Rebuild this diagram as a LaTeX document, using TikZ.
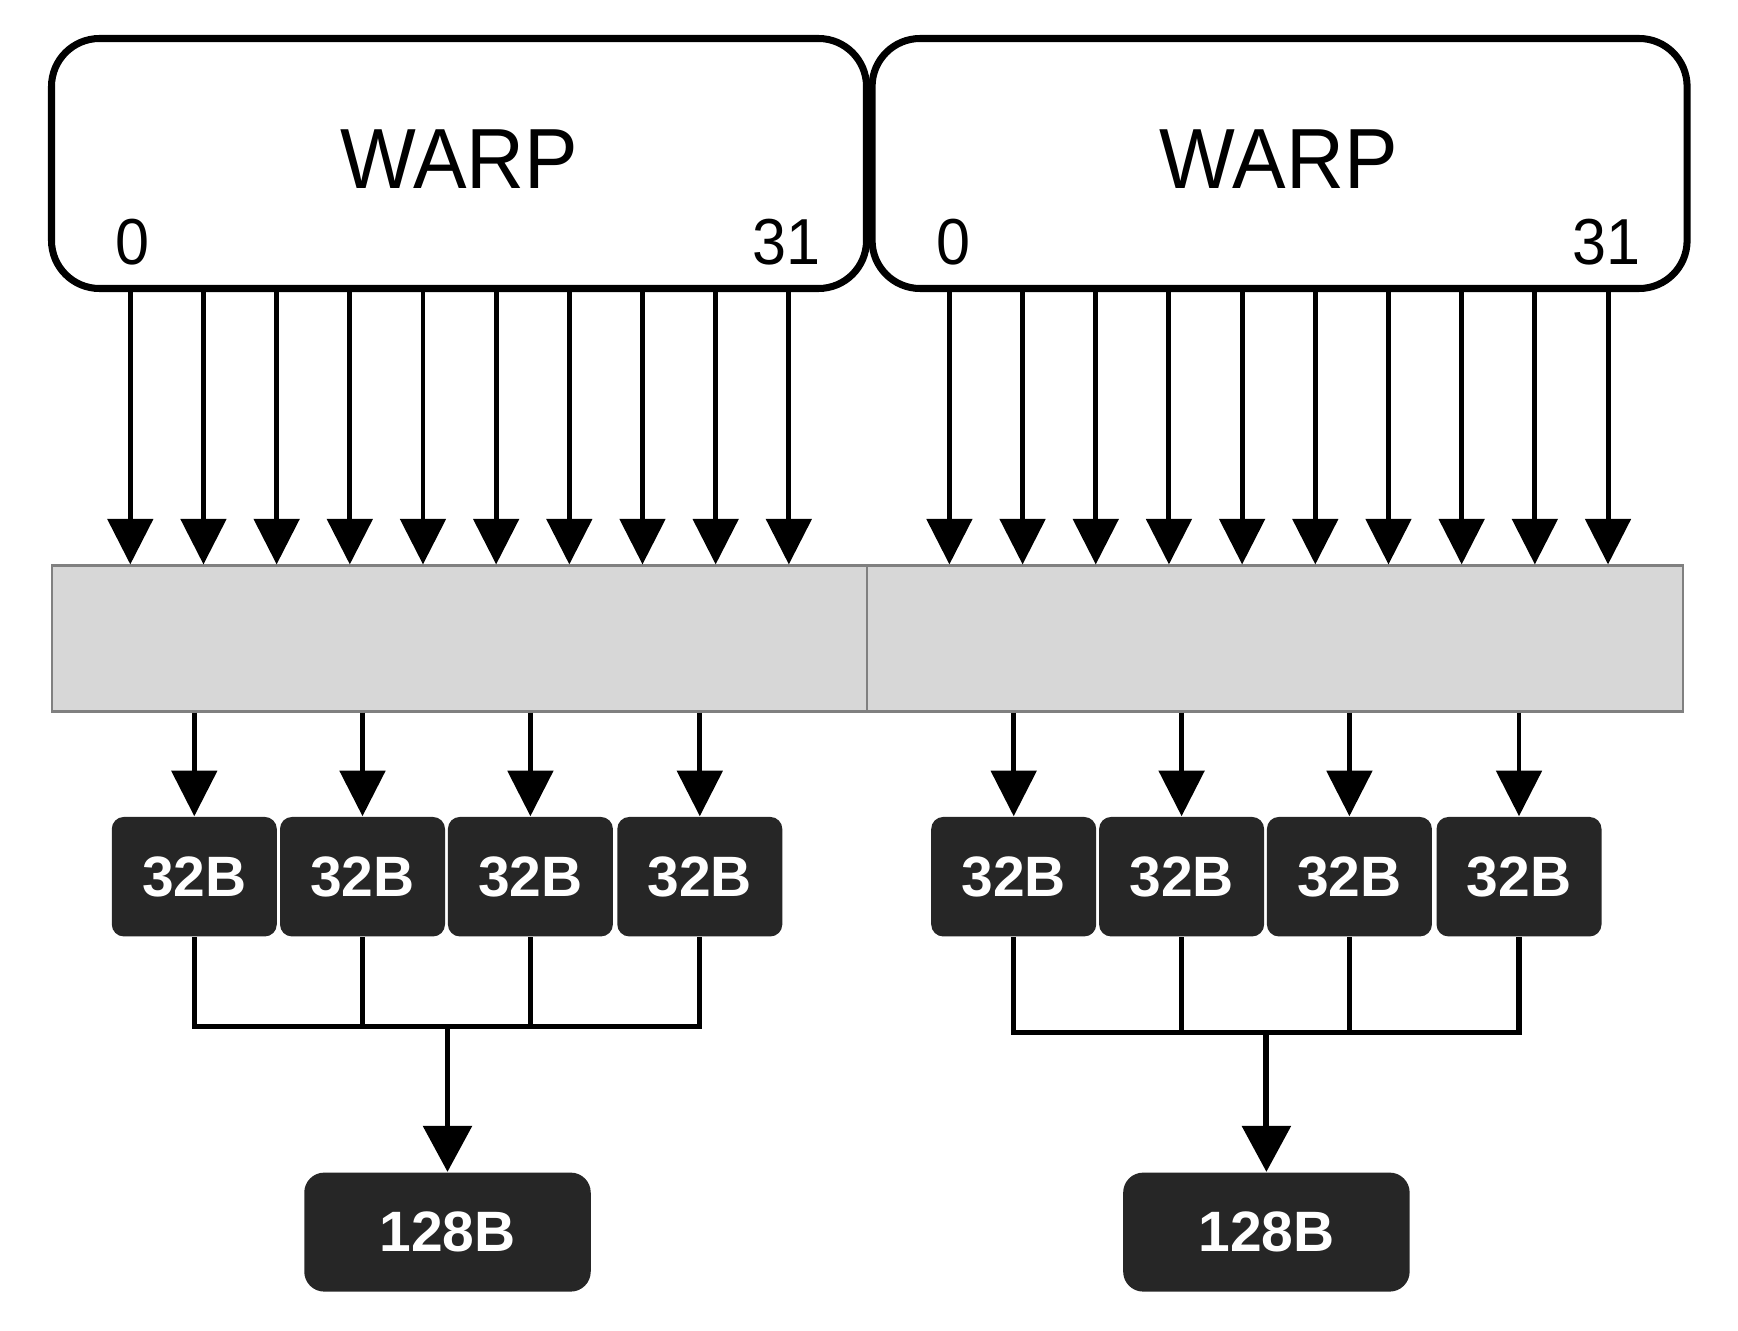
\documentclass[tikz,border=0pt]{standalone}
\usepackage{fontspec}
\setmainfont{Liberation Sans}
\newfontfamily\warpfont[FakeStretch=0.94]{Liberation Sans}
\usetikzlibrary{arrows.meta}
\definecolor{sectorgray}{HTML}{262626}
\definecolor{linegray}{HTML}{D7D7D7}
\tikzset{>={Triangle[width=0.45cm,length=0.455cm]}}
\tikzset{
  warpbox/.style={draw,line width=2pt,rounded corners=0.48cm,minimum width=8.15cm,minimum height=2.5cm,inner sep=0pt},
  cacheline/.style={draw=black!50,fill=linegray,line width=0.6pt,minimum width=8.153cm,minimum height=1.46cm,inner sep=0pt},
  sector/.style={fill=sectorgray,rounded corners=0.12cm,minimum width=1.65cm,minimum height=1.195cm,text=white,font=\bfseries\fontsize{16.2}{16.2}\selectfont,inner sep=0pt},
  segment/.style={sector,minimum width=2.865cm,minimum height=1.19cm,rounded corners=0.2cm},
  lane/.style={font=\warpfont\fontsize{18.5}{18.5}\selectfont,inner sep=0pt},
  title/.style={font=\warpfont\fontsize{24.3}{24.3}\selectfont,inner sep=0pt},
  thread/.style={->,line width=1.4pt},
  mergeline/.style={line width=1.5pt},
}

\begin{document}
\begin{tikzpicture}
    \useasboundingbox (0,0) rectangle (17.38,13.30);
    % warps
    \node[warpbox] (warpL) at (4.590,11.665) {};
    \node[warpbox] (warpR) at (12.796,11.665) {};
    \node[title] (titleL) at (4.592,11.71) {WARP};
    \node[title] (titleR) at (12.786,11.71) {WARP};
    \node[lane] (firstL) at (1.328,10.877) {0};
    \node[lane] (lastL) at (7.865,10.877) {31};
    \node[lane] (firstR) at (9.53,10.877) {0};
    \node[lane] (lastR) at (16.06,10.877) {31};
    % cache lines
    \node[cacheline] (barL) at (4.597,6.915) {};
    \node[cacheline] (barR) at (12.75,6.915) {};
    % threads
    \foreach \i in {0,...,9} {
        \pgfmathsetmacro\tl{1.303+0.7317*\i}
        \pgfmathsetmacro\tr{9.494+0.7318*\i}
        \draw[thread] (\tl,0 |- warpL.south) -- (\tl,0 |- barL.north);
        \draw[thread] (\tr,0 |- warpR.south) -- (\tr,0 |- barR.north);
    }
    % 32B sectors
    \node[sector] (sL1) at (1.943,4.533) {32B};
    \node[sector] (sL2) at (3.625,4.533) {32B};
    \node[sector] (sL3) at (5.304,4.533) {32B};
    \node[sector] (sL4) at (6.998,4.533) {32B};
    \node[sector] (sR1) at (10.137,4.533) {32B};
    \node[sector] (sR2) at (11.816,4.533) {32B};
    \node[sector] (sR3) at (13.494,4.533) {32B};
    \node[sector] (sR4) at (15.19,4.533) {32B};
    \foreach \s in {sL1,sL2,sL3,sL4} \draw[thread] (\s |- barL.south) -- (\s.north);
    \foreach \s in {sR1,sR2,sR3,sR4} \draw[thread] (\s |- barR.south) -- (\s.north);
    % 128B segments
    \node[segment] (mL) at (4.475,0.979) {128B};
    \node[segment] (mR) at (12.664,0.979) {128B};
    \coordinate (jL) at (4.475,3.036);
    \coordinate (jR) at (12.664,2.975);
    \draw[mergeline] (sL1.south) |- (jL) -| (sL4.south);
    \draw[mergeline] (sL2.south) -- (sL2 |- jL);
    \draw[mergeline] (sL3.south) -- (sL3 |- jL);
    \draw[mergeline] (sR1.south) |- (jR) -| (sR4.south);
    \draw[mergeline] (sR2.south) -- (sR2 |- jR);
    \draw[mergeline] (sR3.south) -- (sR3 |- jR);
    \draw[mergeline,line width=1.7pt,-{Triangle[width=0.48cm,length=0.46cm]}] (jL) -- (mL.north);
    \draw[mergeline,line width=1.7pt,-{Triangle[width=0.48cm,length=0.46cm]}] (jR) -- (mR.north);
\end{tikzpicture}
\end{document}
